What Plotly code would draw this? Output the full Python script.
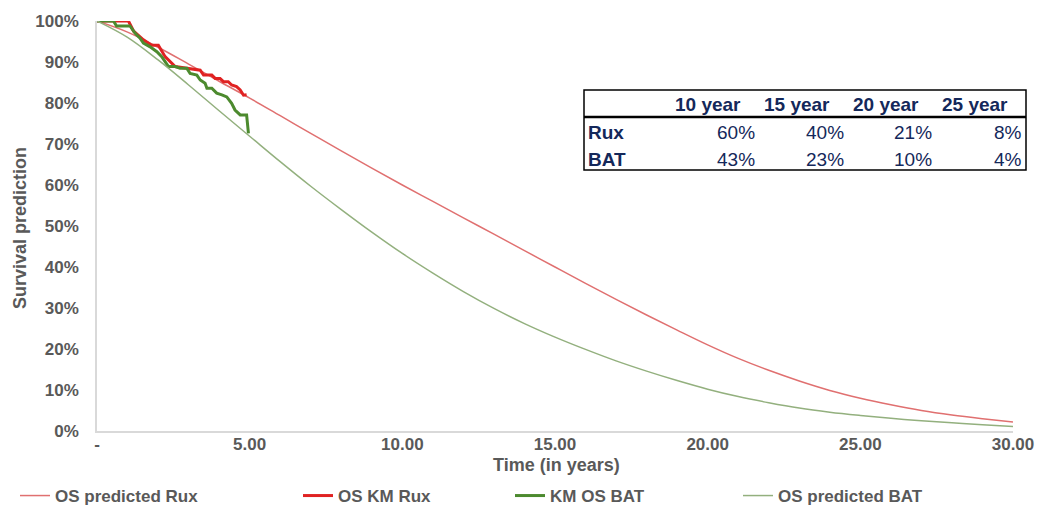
import plotly.graph_objects as go

# ---------------- data ----------------
years = list(range(0, 31))
os_pred_rux = [100, 97.3, 93.6, 89.5, 85.3, 81.2, 76.9, 72.6, 68.3, 64.1, 60.0,
               56.0, 52.0, 48.0, 44.0, 40.0, 36.0, 32.1, 28.3, 24.6, 21.0,
               17.7, 14.8, 12.2, 9.9, 8.0, 6.4, 5.0, 3.9, 3.0, 2.2]
os_pred_bat = [100, 96.0, 90.5, 84.4, 78.1, 71.9, 65.7, 59.7, 54.0, 48.5, 43.3,
               38.5, 34.0, 29.9, 26.2, 22.9, 19.9, 17.1, 14.6, 12.3, 10.2,
               8.4, 6.9, 5.6, 4.6, 3.8, 3.1, 2.5, 2.0, 1.5, 1.1]

km_rux_t = [0, 1.03, 1.2, 1.35, 1.52, 1.79, 2.01, 2.23, 2.56, 3.38, 3.49, 3.76,
            3.87, 4.03, 4.14, 4.30, 4.41, 4.57, 4.69, 4.80, 4.90]
km_rux_s = [100, 100, 97.5, 96.5, 95.4, 94.1, 94.1, 91.3, 88.9, 88.0, 86.8, 86.8,
            86.0, 86.0, 85.2, 85.2, 84.4, 84.0, 83.2, 81.9, 82.0]

km_bat_t = [0, 0.54, 0.64, 1.08, 1.25, 1.41, 1.52, 1.74, 1.96, 2.12, 2.23, 2.34,
            2.56, 2.72, 2.94, 3.05, 3.27, 3.38, 3.54, 3.60, 3.76, 3.92, 4.09,
            4.25, 4.41, 4.52, 4.69, 4.90, 4.96]
km_bat_s = [100, 100, 98.8, 98.8, 97.0, 95.8, 94.6, 93.7, 92.5, 91.3, 90.1, 88.9,
            88.9, 88.5, 88.5, 87.2, 86.8, 85.6, 84.8, 83.6, 83.6, 82.4, 82.0,
            81.5, 79.9, 78.3, 77.1, 77.1, 72.6]

x_tickvals = [0, 5, 10, 15, 20, 25, 30]
x_ticktext = ["-", "5.00", "10.00", "15.00", "20.00", "25.00", "30.00"]
y_tickvals = [0, 10, 20, 30, 40, 50, 60, 70, 80, 90, 100]

x_title = "Time (in years)"
y_title = "Survival prediction"

table_cols = ["10 year", "15 year", "20 year", "25 year"]
table_rows = ["Rux", "BAT"]
table_vals = [["60%", "40%", "21%", "8%"],
              ["43%", "23%", "10%", "4%"]]

# ---------------- layout helpers ----------------
W, H = 1037, 509
PL, PR, PT, PB = 97, 1013, 21, 431   # plot area in px


def px(xp):
    return (xp - PL) / (PR - PL)


def py(yp):
    return (PB - yp) / (PB - PT)


FONT = "Liberation Sans, Arial, sans-serif"
GREY = "#595959"
NAVY = "#14285A"

fig = go.Figure()
fig.add_trace(go.Scatter(x=years, y=[v / 100 for v in os_pred_rux], mode="lines",
                         name="OS predicted Rux", line=dict(color="#E07070", width=1.5, shape="spline"),
                         legend="legend"))
fig.add_trace(go.Scatter(x=km_rux_t, y=[v / 100 for v in km_rux_s], mode="lines",
                         name="OS KM Rux", line=dict(color="#E02222", width=3),
                         legend="legend2"))
fig.add_trace(go.Scatter(x=km_bat_t, y=[v / 100 for v in km_bat_s], mode="lines",
                         name="KM OS BAT", line=dict(color="#4C8A2E", width=3),
                         legend="legend3"))
fig.add_trace(go.Scatter(x=years, y=[v / 100 for v in os_pred_bat], mode="lines",
                         name="OS predicted BAT", line=dict(color="#93B07E", width=1.5, shape="spline"),
                         legend="legend4"))

leg_font = dict(family=FONT, size=17, color=GREY, weight="bold")
leg_common = dict(orientation="h", yanchor="middle", xanchor="left", y=py(496),
                  font=leg_font, bgcolor="rgba(0,0,0,0)", itemwidth=30)

# ---------------- table ----------------
shapes = [
    dict(type="rect", xref="paper", yref="paper", x0=px(584), x1=px(1026), y0=py(90), y1=py(170),
         line=dict(color="black", width=1.5), fillcolor="white", layer="above"),
    dict(type="line", xref="paper", yref="paper", x0=px(584), x1=px(1026), y0=py(117), y1=py(117),
         line=dict(color="black", width=2.5), layer="above"),
]
annotations = []
head_right = [743, 832, 921, 1010]
val_right = [757, 846, 934, 1024]
for c, r in zip(table_cols, head_right):
    annotations.append(dict(x=px(r), y=py(105), xref="paper", yref="paper", text="<b>%s</b>" % c,
                            showarrow=False, xanchor="right", yanchor="middle",
                            font=dict(family=FONT, size=19, color=NAVY)))
row_y = [132, 159]
for i, name in enumerate(table_rows):
    annotations.append(dict(x=px(586), y=py(row_y[i]), xref="paper", yref="paper", text="<b>%s</b>" % name,
                            showarrow=False, xanchor="left", yanchor="middle",
                            font=dict(family=FONT, size=19, color=NAVY)))
    for v, r in zip(table_vals[i], val_right):
        annotations.append(dict(x=px(r), y=py(row_y[i]), xref="paper", yref="paper", text=v,
                                showarrow=False, xanchor="right", yanchor="middle",
                                font=dict(family=FONT, size=19, color=NAVY)))

# axis titles (placed as in the original, tight against the tick labels)
annotations.append(dict(x=px(556), y=py(465), xref="paper", yref="paper", text="<b>%s</b>" % x_title,
                        showarrow=False, xanchor="center", yanchor="middle",
                        font=dict(family=FONT, size=18, color=GREY)))
annotations.append(dict(x=px(20), y=py(228), xref="paper", yref="paper", text="<b>%s</b>" % y_title,
                        showarrow=False, xanchor="center", yanchor="middle", textangle=-90,
                        font=dict(family=FONT, size=18, color=GREY)))

fig.update_layout(
    width=W, height=H,
    margin=dict(l=PL, r=W - PR, t=PT, b=H - PB, pad=0, autoexpand=False),
    paper_bgcolor="white", plot_bgcolor="white",
    showlegend=True,
    legend=dict(leg_common, x=px(15)),
    legend2=dict(leg_common, x=px(298)),
    legend3=dict(leg_common, x=px(510)),
    legend4=dict(leg_common, x=px(738)),
    xaxis=dict(range=[0, 30], tickvals=x_tickvals, ticktext=x_ticktext, showgrid=False,
               zeroline=False, showline=True, linecolor="#D9D9D9", linewidth=1.5,
               ticks="", automargin=False, ticklabelstandoff=-3,
               ticklabeloverflow="allow",
               tickfont=dict(family=FONT, size=17, color=GREY, weight="bold")),
    yaxis=dict(range=[0, 1], tickvals=[v / 100 for v in y_tickvals], tickformat=".0%",
               showgrid=False, zeroline=False, showline=True, linecolor="#D9D9D9", linewidth=1.5,
               ticks="outside", ticklen=13, tickcolor="rgba(0,0,0,0)", automargin=False,
               ticklabeloverflow="allow",
               tickfont=dict(family=FONT, size=17, color=GREY, weight="bold")),
    shapes=shapes,
    annotations=annotations,
)

fig.write_html("out.html", config={"displayModeBar": False},
               post_script="document.body.style.margin='0';")
